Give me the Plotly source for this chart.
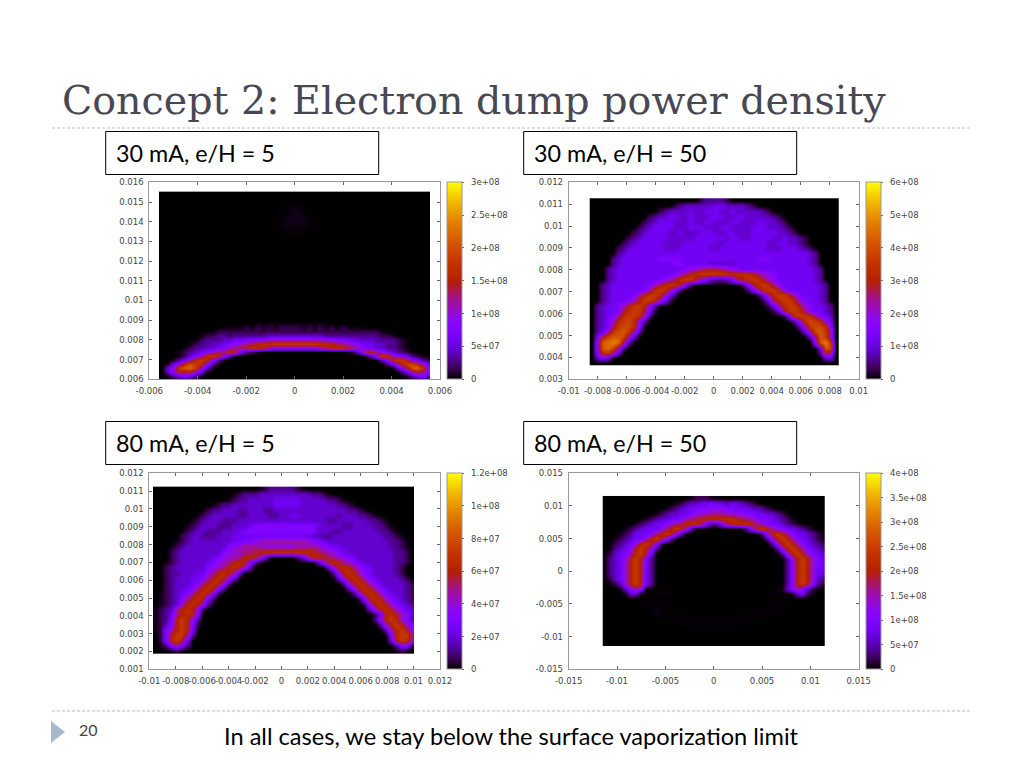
import plotly.graph_objects as go

# the page puts an 8px margin around the plot, so the figure is that much smaller
W = 1008
H = 752
PAGE_MARGIN = 8

# Palette of the colour bars (gnuplot pm3d default)
PALETTE = [
    [0.0, "#000000"], [0.05, "#390050"], [0.1, "#510096"], [0.15, "#6301ce"],
    [0.2, "#7202f3"], [0.25, "#8004ff"], [0.3, "#8c07f3"], [0.4, "#a11096"],
    [0.5, "#b42000"], [0.6, "#c63700"], [0.7, "#d55800"], [0.8, "#e48300"],
    [0.9, "#f2ba00"], [1.0, "#ffff00"],
]

TITLE = "Concept 2: Electron dump power density"
FOOTER = "In all cases, we stay below the surface vaporization limit"
PAGE = "20"

LABEL_A = "30 mA, e/H = 5"
LABEL_B = "30 mA, e/H = 50"
LABEL_C = "80 mA, e/H = 5"
LABEL_D = "80 mA, e/H = 50"

# Map rows, top row first. One character per cell:
# "." nothing, "," and ":" barely visible, 0-9 a-k twentieths of the bar maximum.
ROWS_A = [
    "............ ............ ............ ............",
    "............ ..........,, ,........... ............",
    "............ .........,,: :,,......... ............",
    "............ ........,,:: ::,,........ ............",
    "............ .........,,, ,,.......... ............",
    "............ ............ ............ ............",
    "............ ............ ............ ............",
    "............ ............ ............ ............",
    "............ ....,::::::: ::::::,..... ............",
    "...........: :::1:1:1:111 1:1:1:1:1::: ,,..........",
    "........,:11 111111111111 111111111111 111:,.......",
    ".......:1122 122222233333 333332222222 22211:......",
    "......:12223 344556677777 777776655443 3322221:....",
    ".....:122334 56789abbcccc ccccbba98765 4433221:....",
    "....:1223345 789abba86666 666689abba87 5433221:....",
    "...:12345789 ba421:...... .........:14 9b864321:...",
    "...:1357bcb6 2:.......... ............ :37cb75421:.",
    "..:247bcb62: ............ ............ ...37bcb6421",
    ".:36bdcb62:. ............ ............ ....259cdb74",
    ".36cefc73:.. ............ ............ .....:48dfc6",
    ".36a9a63:... ............ ............ ......:36a86",
    ".:24642:.... ............ ............ .......:2463",
    "............ ............ ............ ............",
]
# the upper part of this map is empty, so its rows are not evenly spaced
Y_A = [
    0.01535, 0.015, 0.0145, 0.014, 0.0135, 0.013, 0.011, 0.009, 0.0088, 0.0086,
    0.0084, 0.0082, 0.008, 0.0078, 0.0076, 0.0074, 0.0072, 0.007, 0.0068,
    0.0066, 0.0064, 0.0062, 0.006,
]

ROWS_B = [
    "............ .........122 221......... ............",
    "............ ....12333333 44333321.... ............",
    "............ .12333343344 43343333321. ............",
    "...........1 233443343334 4433443333 321...........",
    "..........12 344433343344 33344333443 321..........",
    ".........123 444433344433 344333344433 321.........",
    "........1234 444334333444 3344333444 443321........",
    ".......12344 444333334444 44344334444 3343321......",
    "......123444 443333444444 334444444433 443321......",
    ".....1234444 443334444443 344444444433 3444321.....",
    ".....2344444 444444444444 444444444444 44444432....",
    "....23444444 455555444444 444444445554 44444432....",
    "....23444444 444455444443 333344444444 44444432....",
    "...234444444 444444567899 987654444444 444444432...",
    "...234444444 4444578abccc ccbbbbba8765 444444432...",
    "...234444444 45679bcc9753 22359abcb976 444444432...",
    "..2344444445 79bcb951.... .....159bcb8 6444444432..",
    "..2344444457 bcb851...... ......158bcc 9644444432..",
    "..23444458ac cb741....... ........148b cca7544432..",
    "..2344457acc b741........ .........149 bcca754432..",
    ".234457acca6 2........... ..........14 8bcca754432.",
    ".234459bcc95 1........... ...........1 49ccb854432.",
    ".23458bccb72 ............ ............ .15bccb8543.",
    ".2357bcdb62. ............ ............ ...26bdcb74.",
    ".2359cddb5.. ............ ............ ....27cddb6.",
    ".248cdec72.. ............ ............ .....38dec8.",
    ".4adeed83... ............ ............ ......38ec7.",
    ".6efgf93.... ............ ............ .......6egc.",
    ".6efd82..... ............ ............ ........4ed.",
    ".5bc83...... ............ ............ ........2a8.",
    ".353........ ............ ............ .........34.",
    "............ ............ ............ ............",
]

ROWS_C = [
    ".......... .......... :1222221:. .......... ..........",
    ".......... .....:1222 3333333333 221:...... ..........",
    ".......... ....:12233 3334444433 333221:... ..........",
    ".......... .:12233333 3334444433 33333221:. ..........",
    ".......... 1223332233 3223333333 3333333221 :.........",
    "........:1 2333332233 3322334433 3333323332 21:.......",
    ".......:12 3332223333 3333333333 3332233333 3221:.....",
    "......:123 3322233345 5555555555 5433332233 33221:....",
    "......1233 2223334555 5555555555 5333223333 333221:...",
    ".....12332 2233344444 4444444444 3322333333 3333221:..",
    "....:12333 3333344556 7888888887 6543333333 33333221:.",
    "...:123333 3333567888 7666666777 8765443333 33333221:.",
    "...1233333 3335677889 abbbbbbbbb a987654333 333333221.",
    "...1233333 3456778aba 73.....137 aba9876543 333333221.",
    "..:1233333 45678aba62 .......... .26aba8754 333333221.",
    "..12333333 5678aba73. .......... ...37aba86 54333321..",
    "..12233344 68aba83... .......... ....27aba7 54333321..",
    "..12333445 8aba73.... .......... .....37aba 754333321.",
    "..12333458 aba72..... .......... ......27ab a754333321",
    "..1233458a ba62...... .......... .......37a ba75433321",
    ".:123458ab a51....... .......... ........27 aba7543321",
    ".:12358aba 41........ .......... .........1 6aba754321",
    ".:1237aba7 2......... .......... .......... 17aba75432",
    ":1238aba61 .......... .......... .......... .37aba7543",
    ":1248aba6. .......... .......... .......... ..14aba763",
    ":125aca62. .......... .......... .......... ..27aca752",
    ":136aca51. .......... .......... .......... ...27aca75",
    ":158aca4.. .......... .......... .......... ....27aca6",
    ".15acc82.. .......... .......... .......... .....4acc9",
    ".15bca4... .......... .......... .......... .....3acb8",
    ".:26852... .......... .......... .......... ......2661",
    "...:1:.... .......... .......... .......... ......:1:.",
]

ROWS_D = [
    "........... .....,:111: :,......... ...........",
    "........... ...:1233445 44344321:.. ...........",
    "........... .:123445556 66554443321 :..........",
    "..........: 12334456778 88776655443 321:.......",
    "........:12 33445789abb bbbba987555 4321:......",
    "......:1234 45789bbb952 259abbba875 44321:.....",
    "....:123444 68aca72.... ......27aca 86544321:..",
    "...:1244458 aca62...... .........27 aca8544321:",
    "..:123446ac a62........ ..........2 7aca854321:",
    ".:12346aca6 1.......... ........... 27aca854321",
    ".:2346aca72 ........... ........... .27aca85432",
    ":13457aca4. ........... ........... ..27aca7543",
    ":2346aca62. ........... ........... ...27aca754",
    ":2347aca52. ........... ........... ...26aca754",
    ":2347aca52. ........... ........... ...26aca744",
    ":2347aca52. ........... ........... ...26aca743",
    ":1347aca52. ........... ........... ...26aca732",
    ".:137aca52. ........... ........... ...26aca621",
    "...:3687:,, ,,......... ........... ,,:368631:.",
    "....:33:,,, ,,,........ ........... ,,,,:341:..",
    "........,,, ........... ........... ..,,,......",
    "........,,, ,,......... ........... ,,,,.......",
    ".........,, ,,,........ ........,,, ,,,........",
    "..........: ,,,,,...... .....,,,,,, ,..........",
    "........... ..,,,,,,,,, ,,,,,,,,,,. ...........",
    "........... ....,,,,,,, ,,,,,,,.... ...........",
    "........... ........... ........... ...........",
    "........... ........... ........... ...........",
    "........... ........... ........... ...........",
    "........... ........... ........... ...........",
]

# Tick labels of the four plots
XT_A = ["-0.006", "-0.004", "-0.002", "0", "0.002", "0.004", "0.006"]
YT_A = ["0.006", "0.007", "0.008", "0.009", "0.01", "0.011", "0.012", "0.013", "0.014", "0.015", "0.016"]
CT_A = ["0", "5e+07", "1e+08", "1.5e+08", "2e+08", "2.5e+08", "3e+08"]

XT_B = ["-0.01", "-0.008", "-0.006", "-0.004", "-0.002", "0", "0.002", "0.004", "0.006", "0.008", "0.01"]
YT_B = ["0.003", "0.004", "0.005", "0.006", "0.007", "0.008", "0.009", "0.01", "0.011", "0.012"]
CT_B = ["0", "1e+08", "2e+08", "3e+08", "4e+08", "5e+08", "6e+08"]

XT_C = ["-0.01", "-0.008", "-0.006", "-0.004", "-0.002", "0", "0.002", "0.004", "0.006", "0.008", "0.01", "0.012"]
YT_C = ["0.001", "0.002", "0.003", "0.004", "0.005", "0.006", "0.007", "0.008", "0.009", "0.01", "0.011", "0.012"]
CT_C = ["0", "2e+07", "4e+07", "6e+07", "8e+07", "1e+08", "1.2e+08"]

XT_D = ["-0.015", "-0.01", "-0.005", "0", "0.005", "0.01", "0.015"]
YT_D = ["-0.015", "-0.01", "-0.005", "0", "0.005", "0.01", "0.015"]
CT_D = ["0", "5e+07", "1e+08", "1.5e+08", "2e+08", "2.5e+08", "3e+08", "3.5e+08", "4e+08"]

GRID = "#999999"
TICK_TEXT = "#444444"
TITLE_COLOR = "#484855"


def cell_value(ch, zmax):
    if ch == ".":
        return 0.0
    if ch == ",":
        return 0.004 * zmax
    if ch == ":":
        return 0.015 * zmax
    return int(ch, 36) / 20 * zmax


def decode(rows, zmax):
    clean = [r.replace(" ", "") for r in rows]
    n = max(len(r) for r in clean)
    # rows are typed top first, the axis runs upwards
    return [[cell_value(c, zmax) for c in r.ljust(n, ".")[:n]] for r in clean[::-1]]


def px_x(x):
    return (x - PAGE_MARGIN) / W


def px_y(y):
    return 1 - (y - PAGE_MARGIN) / H


# frame in page pixels, then image extent in data units
panels = [
    dict(rows=ROWS_A, y=Y_A, frame=(149.3, 440, 182.3, 379.3), bar=447, ext=(-0.0056, 0.0056, 0.006, 0.0155),
         xt=XT_A, yt=YT_A, ct=CT_A),
    dict(rows=ROWS_B, y=None, frame=(568.7, 858.7, 182.3, 379.3), bar=866, ext=(-0.00855, 0.0086, 0.00362, 0.01127),
         xt=XT_B, yt=YT_B, ct=CT_B),
    dict(rows=ROWS_C, y=None, frame=(149.3, 440, 473.3, 669.3), bar=447, ext=(-0.00972, 0.01006, 0.0019, 0.01125),
         xt=XT_C, yt=YT_C, ct=CT_C),
    dict(rows=ROWS_D, y=None, frame=(568.7, 858.7, 473.3, 669.3), bar=866, ext=(-0.01148, 0.01152, -0.01148, 0.01153),
         xt=XT_D, yt=YT_D, ct=CT_D),
]

fig = go.Figure()
layout_axes = {}

for i, p in enumerate(panels):
    n = "" if i == 0 else str(i + 1)
    left, right, top, bottom = p["frame"]
    zmax = float(p["ct"][-1])
    z = decode(p["rows"], zmax)
    x0, x1, y0, y1 = p["ext"]
    dx = (x1 - x0) / len(z[0])

    trace = dict(
        z=z,
        x0=x0 + dx / 2,
        dx=dx,
        xaxis="x" + n,
        yaxis="y" + n,
        zmin=0,
        zmax=zmax,
        zsmooth="best",
        colorscale=PALETTE,
        hoverinfo="skip",
        colorbar=dict(
            x=px_x(p["bar"]),
            xanchor="left",
            xpad=0,
            ypad=0,
            y=px_y(bottom),
            yanchor="bottom",
            len=(bottom - top) / H,
            lenmode="fraction",
            thickness=14.7,
            thicknessmode="pixels",
            outlinecolor=GRID,
            outlinewidth=1,
            ticks="outside",
            ticklen=2,
            tickcolor="#666666",
            tickvals=[float(t) for t in p["ct"]],
            ticktext=["\u00a0\u00a0" + t for t in p["ct"]],
            tickfont=dict(family="DejaVu Sans", size=8.5, color=TICK_TEXT),
        ),
    )
    if p["y"] is None:
        dy = (y1 - y0) / len(z)
        trace["y0"] = y0 + dy / 2
        trace["dy"] = dy
    else:
        trace["y"] = p["y"][::-1]
    fig.add_trace(go.Heatmap(**trace))

    axis_style = dict(
        automargin=False,
        ticks="inside",
        ticklen=3,
        tickwidth=1,
        tickcolor="#666666",
        showline=True,
        linecolor=GRID,
        linewidth=1,
        mirror="ticks",
        showgrid=False,
        zeroline=False,
        tickangle=0,
        tickfont=dict(family="DejaVu Sans", size=8.5, color=TICK_TEXT),
    )
    layout_axes["xaxis" + n] = dict(
        domain=[px_x(left), px_x(right)],
        range=[float(p["xt"][0]), float(p["xt"][-1])],
        tickvals=[float(t) for t in p["xt"]],
        ticktext=p["xt"],
        anchor="y" + n,
        ticklabelstandoff=3,
        **axis_style,
    )
    layout_axes["yaxis" + n] = dict(
        domain=[px_y(bottom), px_y(top)],
        range=[float(p["yt"][0]), float(p["yt"][-1])],
        tickvals=[float(t) for t in p["yt"]],
        ticktext=p["yt"],
        anchor="x" + n,
        ticklabelstandoff=3,
        **axis_style,
    )


def text(x, y, s, size, color="#000000", family="Lato"):
    return dict(
        x=px_x(x), y=px_y(y), xref="paper", yref="paper", text=s, showarrow=False,
        xanchor="left", yanchor="middle", xshift=0, font=dict(family=family, size=size, color=color),
    )


def rect(x0, y0, x1, y1):
    return dict(
        type="rect", xref="paper", yref="paper", x0=px_x(x0), x1=px_x(x1), y0=px_y(y0), y1=px_y(y1),
        line=dict(color="#000000", width=1), fillcolor="#ffffff",
    )


def dashed(y, color):
    return dict(
        type="line", xref="paper", yref="paper", x0=px_x(52), x1=px_x(972), y0=px_y(y), y1=px_y(y),
        line=dict(color=color, width=1, dash="3px,2px"),
    )


shapes = [
    dashed(128, "#b9c4ca"),
    dashed(711, "#a9bdcc"),
    rect(105.7, 131.5, 378.7, 174.5),
    rect(523.7, 131.5, 796.7, 174.5),
    rect(105.7, 421.5, 378.7, 464.5),
    rect(523.7, 421.5, 796.7, 464.5),
    dict(
        type="path", xref="paper", yref="paper",
        path="M %f %f L %f %f L %f %f Z" % (px_x(51), px_y(721), px_x(65), px_y(732), px_x(51), px_y(743)),
        fillcolor="#a6b9cd", line=dict(width=0),
    ),
]

annotations = [
    text(60, 100, TITLE, 39.6, TITLE_COLOR, "DejaVu Serif"),
    text(114, 153, LABEL_A, 23.3),
    text(532, 153, LABEL_B, 23.3),
    text(114, 443, LABEL_C, 23.3),
    text(532, 443, LABEL_D, 23.3),
    text(77, 729, PAGE, 16, "#444444"),
    text(222, 736, FOOTER, 23.6),
]

fig.update_layout(
    width=W,
    height=H,
    autosize=False,
    margin=dict(l=0, r=0, t=0, b=0),
    paper_bgcolor="#ffffff",
    plot_bgcolor="#ffffff",
    showlegend=False,
    shapes=shapes,
    annotations=annotations,
    **layout_axes,
)

fig.write_html("out.html")
